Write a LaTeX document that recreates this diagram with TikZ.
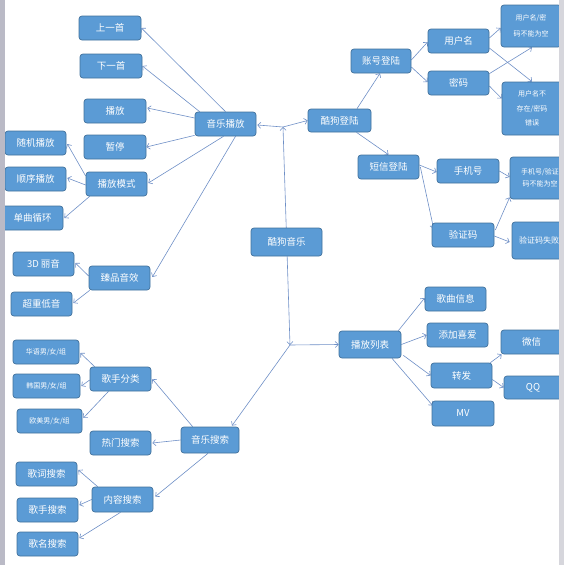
\documentclass[tikz,border=0pt]{standalone}
\usepackage{fontspec}
\setmainfont{Noto Sans CJK SC}
\usetikzlibrary{arrows.meta,calc,backgrounds}
\definecolor{fillc}{HTML}{5B9BD5}
\definecolor{bordc}{HTML}{41719C}
\definecolor{edgec}{HTML}{6E8FC6}
\definecolor{stripL}{HTML}{BABAC6}
\definecolor{stripR}{HTML}{D6D6DC}
\tikzset{
  box/.style={draw=bordc, fill=fillc, rounded corners=3pt, text=white, inner sep=0pt,
    font=\fontsize{9.5}{11}\selectfont, align=center, line width=0.7pt},
  smallbox/.style={box, font=\fontsize{7}{9}\selectfont},
  conn/.style={draw=edgec, line width=0.6pt, -{Straight Barb[length=3pt,width=6pt]}},
  conntwo/.style={draw=edgec, line width=0.6pt, {Straight Barb[length=3pt,width=6pt]}-{Straight Barb[length=3pt,width=6pt]}}
}
\begin{document}
\begin{tikzpicture}[x=1pt,y=-1pt]
\useasboundingbox (0,0) rectangle (564,565);
\coordinate (jt) at (283,127);
\coordinate (jb) at (290,345);
% center
\node[box, minimum width=71, minimum height=28] (kg) at (286.5,242) {酷狗音乐};
% music play branch
\node[box, minimum width=61, minimum height=24] (yy) at (225.5,124) {音乐播放};
\node[box, minimum width=62, minimum height=24] (prev) at (110,28) {上一首};
\node[box, minimum width=62, minimum height=24] (next) at (111,66) {下一首};
\node[box, minimum width=62, minimum height=24] (play) at (115,111) {播放};
\node[box, minimum width=62, minimum height=24] (pause) at (115,147) {暂停};
\node[box, minimum width=61, minimum height=24] (mode) at (116.5,184) {播放模式};
\node[box, minimum width=61, minimum height=24] (rand) at (35.5,143) {随机播放};
\node[box, minimum width=61, minimum height=24] (seq) at (35.5,179) {顺序播放};
\node[box, minimum width=61, minimum height=24] (single) at (32.5,218) {单曲循环};
\node[box, minimum width=61, minimum height=24] (sound) at (119.5,278) {臻品音效};
\node[box, minimum width=61, minimum height=24] (d3) at (43.5,264) {3D 丽音};
\node[box, minimum width=61, minimum height=24] (bass) at (41.5,304) {超重低音};
% search branch
\node[box, minimum width=58, minimum height=26] (search) at (210,440) {音乐搜索};
\node[box, minimum width=61, minimum height=24] (singer) at (120.5,379) {歌手分类};
\node[smallbox, minimum width=66, minimum height=24] (hua) at (46,352) {华语男/女/组};
\node[smallbox, minimum width=67, minimum height=24] (han) at (46.5,386) {韩国男/女/组};
\node[smallbox, minimum width=65, minimum height=24] (ou) at (49.5,421) {欧美男/女/组};
\node[box, minimum width=61, minimum height=24] (hot) at (120.5,443) {热门搜索};
\node[box, minimum width=61, minimum height=25] (content) at (122.5,499.5) {内容搜索};
\node[box, minimum width=61, minimum height=24] (lyric) at (46.5,474) {歌词搜索};
\node[box, minimum width=61, minimum height=24] (singers) at (47.5,510) {歌手搜索};
\node[box, minimum width=61, minimum height=24] (name) at (47.5,544) {歌名搜索};
% login branch
\node[box, minimum width=63, minimum height=23] (login) at (339.5,120.5) {酷狗登陆};
\node[box, minimum width=60, minimum height=24] (acct) at (381,61) {账号登陆};
\node[box, minimum width=61, minimum height=24] (user) at (458.5,41) {用户名};
\node[box, minimum width=61, minimum height=24] (pwd) at (458.5,83) {密码};
\node[box, minimum width=60, minimum height=42, font=\fontsize{7}{16}\selectfont] (empty1) at (531,26) {用户名/密\\码不能为空};
\node[box, minimum width=60, minimum height=53, font=\fontsize{7}{14.5}\selectfont] (wrong) at (532,108.5) {用户名不\\存在/密码\\错误};
\node[box, minimum width=61, minimum height=24] (sms) at (388.5,167) {短信登陆};
\node[box, minimum width=62, minimum height=24] (phone) at (468,171) {手机号};
\node[box, minimum width=62, minimum height=24] (code) at (463,235) {验证码};
\node[box, minimum width=60, minimum height=42, font=\fontsize{7}{12}\selectfont] (empty2) at (540,178) {手机号/验证\\码不能为空};
\node[box, minimum width=54, minimum height=37, font=\fontsize{8}{10}\selectfont] (fail) at (539,240.5) {验证码失败};
% playlist branch
\node[box, minimum width=62, minimum height=27] (list) at (370,344.5) {播放列表};
\node[box, minimum width=61, minimum height=24] (info) at (455.5,299) {歌曲信息};
\node[box, minimum width=61, minimum height=24] (fav) at (457.5,335) {添加喜爱};
\node[box, minimum width=61, minimum height=25] (fwd) at (461.5,375.5) {转发};
\node[box, minimum width=62, minimum height=25] (mv) at (463,413.5) {MV};
\node[box, minimum width=61, minimum height=24] (wx) at (531.5,342) {微信};
\node[box, minimum width=58, minimum height=23] (qq) at (533,387.5) {QQ};
\begin{pgfonlayer}{background}
\draw[conntwo] (jb) -- (jt);
\draw[conn] (jt) -- ($(yy.east)+(1,1)$);
\draw[conn] (jt) -- (login.west);
\draw[conn] (jb) -- (list.west);
\draw[conn] (jb) -- ($(search.north)+(22,-1)$);
% music play
\draw[conn] (yy.north) -- (prev.east);
\draw[conn] ($(yy.north west)+(5,0)$) -- (next.east);
\draw[conn] ($(yy.west)+(0,-6)$) -- ($(play.east)+(1,-3)$);
\draw[conn] ($(yy.south west)+(0,-1)$) -- (pause.east);
\draw[conn] ($(yy.south)+(-2,0)$) -- ($(mode.east)+(1,-1)$);
\draw[conn] ($(yy.south)+(10,0)$) -- ($(sound.east)+(2,-1)$);
\draw[conn] ($(mode.west)+(0,-8)$) -- ($(rand.east)+(1,1)$);
\draw[conn] ($(mode.west)+(0,1)$) -- ($(seq.east)+(1,-1)$);
\draw[conn] ($(mode.south west)+(4,0)$) -- ($(single.east)+(1,0)$);
\draw[conn] ($(sound.west)+(0,-2)$) -- ($(d3.east)+(1,-1)$);
\draw[conn] ($(sound.south west)+(1,0)$) -- ($(bass.east)+(1,-1)$);
% search
\draw[conn] ($(search.north west)+(12,0)$) -- ($(singer.east)+(1,0)$);
\draw[conn] (search.west) -- ($(hot.east)+(1,0)$);
\draw[conn] ($(search.south)+(-2,0)$) -- ($(content.east)+(2,-3)$);
\draw[conn] ($(singer.north west)+(5,0)$) -- ($(hua.east)+(1,1)$);
\draw[conn] ($(singer.west)+(0,1)$) -- ($(han.east)+(1,0)$);
\draw[conn] ($(singer.south)+(-12,0)$) -- ($(ou.east)+(1,-3)$);
\draw[conn] ($(content.north west)+(6,0)$) -- ($(lyric.east)+(1,-4)$);
\draw[conn] (content.west) -- ($(singers.east)+(1,-5)$);
\draw[conn] ($(content.south)+(-2,0)$) -- ($(name.east)+(1,-6)$);
% login
\draw[conn] ($(login.north)+(17.5,0)$) -- ($(acct.south)+(-1,0)$);
\draw[conn] ($(login.south)+(17,0)$) -- (sms.north);
\draw[conn] ($(acct.east)+(0,-1)$) -- ($(user.west)+(0,1)$);
\draw[conn] ($(acct.east)+(0,6)$) -- ($(pwd.west)+(0,-1)$);
\draw[conn] ($(user.east)+(0,-3)$) -- ($(empty1.west)+(0,2)$);
\draw[conn] ($(user.east)+(0,7)$) -- (wrong.north);
\draw[conn] ($(pwd.north east)+(0,3)$) -- ($(empty1.south)+(1,0)$);
\draw[conn] ($(pwd.east)+(0,3)$) -- ($(wrong.west)+(0,-10)$);
\draw[conn] ($(sms.east)+(0,-2)$) -- ($(phone.west)+(0,1)$);
\draw[conn] ($(sms.east)+(1,0)$) -- ($(code.north west)+(2,6)$);
\draw[conn] (phone.east) -- ($(empty2.west)+(0,-1)$);
\draw[conn] ($(code.east)+(1,-5)$) -- ($(empty2.south west)+(0,-2)$);
\draw[conn] ($(code.east)+(0,1)$) -- ($(fail.west)+(-2,1.5)$);
% playlist
\draw[conn] ($(list.north east)+(-3,0)$) -- ($(info.west)+(0,-1)$);
\draw[conn] (list.east) -- (fav.west);
\draw[conn] ($(list.south east)+(2,-3)$) -- (fwd.west);
\draw[conn] ($(list.south)+(22,0)$) -- ($(mv.west)+(1,-8)$);
\draw[conn] ($(fwd.north east)+(-2,0)$) -- ($(wx.south west)+(1,0)$);
\draw[conn] ($(fwd.east)+(0,4)$) -- (qq.west);
\end{pgfonlayer}
% page edge stripes
\fill[stripL] (0,0) rectangle (5,565);
\fill[stripR] (559,0) rectangle (564,565);
\end{tikzpicture}
\end{document}
